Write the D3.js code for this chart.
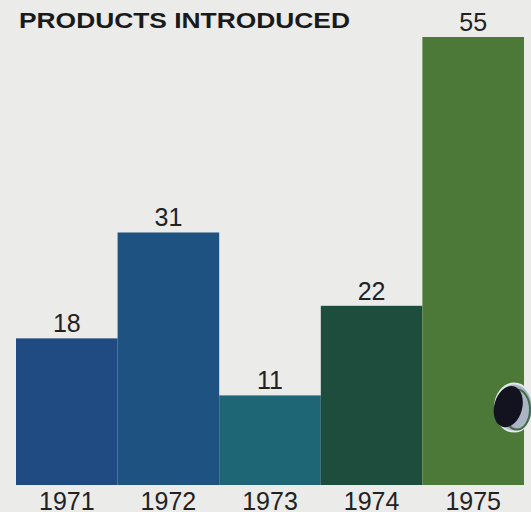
<!DOCTYPE html>
<html><head><meta charset="utf-8">
<script src="https://cdn.jsdelivr.net/npm/d3@7"></script>
<style>html,body{margin:0;padding:0;background:#ebebea;}svg{display:block;}</style>
</head><body>
<svg id="chart" width="531" height="512"></svg>
<script>
const title = "PRODUCTS INTRODUCED";
const years = ["1971", "1972", "1973", "1974", "1975"];
const products = [18, 31, 11, 22, 55];
const barColors = ["#1f4a82", "#1d5281", "#1e6576", "#1d4e3d", "#4c7838"];

const W = 531, H = 512;
const svg = d3.select("#chart");
svg.append("rect").attr("width", W).attr("height", H).attr("fill", "#ebebea");

const x = d3.scaleBand().domain(years).range([16, 524]).padding(0);
const y = d3.scaleLinear().domain([0, 55]).range([485, 37]);

svg.append("text").attr("x", 19).attr("y", 28)
  .attr("font-family", "Liberation Sans, Arial, sans-serif")
  .attr("font-weight", "bold").attr("font-size", 22).attr("fill", "#1a1a1a")
  .attr("textLength", 331).attr("lengthAdjust", "spacingAndGlyphs")
  .text(title);

svg.selectAll("rect.bar").data(years).join("rect").attr("class", "bar")
  .attr("x", d => x(d)).attr("width", x.bandwidth())
  .attr("y", (d, i) => y(products[i]))
  .attr("height", (d, i) => y(0) - y(products[i]))
  .attr("fill", (d, i) => barColors[i]);

svg.selectAll("text.val").data(years).join("text").attr("class", "val")
  .attr("x", d => x(d) + x.bandwidth() / 2)
  .attr("y", (d, i) => y(products[i]) - 6)
  .attr("text-anchor", "middle")
  .attr("font-family", "Liberation Sans, Arial, sans-serif")
  .attr("font-size", 25).attr("fill", "#222")
  .text((d, i) => products[i]);

const xAxis = svg.append("g").attr("transform", `translate(0,${y(0)})`)
  .call(d3.axisBottom(x).tickSize(0).tickPadding(25));
xAxis.select(".domain").remove();
xAxis.selectAll("text")
  .attr("font-family", "Liberation Sans, Arial, sans-serif")
  .attr("font-size", 25).attr("fill", "#222").attr("dy", 0);

// binder punch hole decoration on the last bar
const hx = x("1975") + x.bandwidth() - 16, hy = y(9.5);
svg.append("ellipse").attr("cx", hx + 6).attr("cy", hy).attr("rx", 19).attr("ry", 24)
  .attr("fill", "#aab4c4").attr("stroke", "#e4e7ec").attr("stroke-width", 2);
svg.append("ellipse").attr("cx", hx + 9).attr("cy", hy + 2).attr("rx", 13).attr("ry", 20)
  .attr("fill", "none").attr("stroke", "#3e6a44").attr("stroke-width", 2);
svg.append("ellipse").attr("cx", hx).attr("cy", hy - 1).attr("rx", 14).attr("ry", 21)
  .attr("transform", `rotate(15,${hx},${hy})`)
  .attr("fill", "#12131f");
</script>
</body></html>
